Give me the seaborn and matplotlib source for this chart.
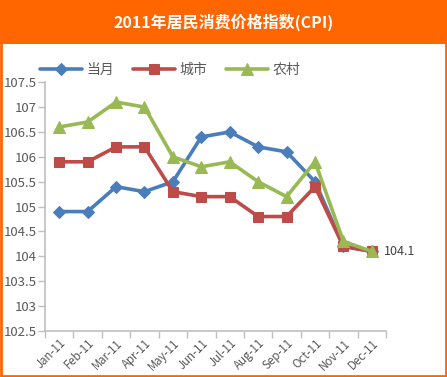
import numpy as np
import pandas as pd
import seaborn as sns
import matplotlib.pyplot as plt
from matplotlib.patches import Rectangle

months = ["Jan-11", "Feb-11", "Mar-11", "Apr-11", "May-11", "Jun-11",
          "Jul-11", "Aug-11", "Sep-11", "Oct-11", "Nov-11", "Dec-11"]
dangyue = [104.9, 104.9, 105.4, 105.3, 105.5, 106.4, 106.5, 106.2, 106.1, 105.5, 104.2, 104.1]
chengshi = [105.9, 105.9, 106.2, 106.2, 105.3, 105.2, 105.2, 104.8, 104.8, 105.4, 104.2, 104.1]
nongcun = [106.6, 106.7, 107.1, 107.0, 106.0, 105.8, 105.9, 105.5, 105.2, 105.9, 104.3, 104.1]

sns.set_style("white")
plt.rcParams["font.family"] = ["Noto Sans CJK SC", "DejaVu Sans"]

fig = plt.figure(figsize=(4.47, 3.77), dpi=100)
ax = fig.add_axes([0.1007, 0.122, 0.763, 0.66])

x = np.arange(len(months))
series = [
    ("当月", dangyue, "#4A7EBB", "D", 6.5),
    ("城市", chengshi, "#BE4B48", "s", 7.5),
    ("农村", nongcun, "#98B954", "^", 8.5),
]
for name, vals, color, marker, ms in series:
    sns.lineplot(x=x, y=vals, ax=ax, color=color, marker=marker, markersize=ms,
                 markeredgecolor=color, linewidth=2.6, label=name)

ax.annotate("104.1", (x[-1], dangyue[-1]), xytext=(9, 0), textcoords="offset points",
            va="center", ha="left", fontsize=9, color="#404040")

ax.set_xlim(-0.5, 11.5)
ax.set_ylim(102.5, 107.5)
ax.set_yticks(np.arange(102.5, 107.51, 0.5))
ax.set_yticklabels([f"{v:g}" for v in np.arange(102.5, 107.51, 0.5)])
ax.set_xticks(np.arange(-0.5, 11.6, 1))
ax.set_xticklabels([])
ax.set_xticks(x, minor=True)
ax.set_xticklabels(months, minor=True, rotation=45, ha="right", rotation_mode="anchor")
ax.tick_params(axis="x", which="major", length=5, width=1, color="#BFBFBF", direction="out", bottom=True)
ax.tick_params(axis="x", which="minor", length=0, pad=4, labelsize=8.3, labelcolor="#595959")
ax.tick_params(axis="y", length=5, width=1, color="#BFBFBF", direction="out", left=True,
               labelsize=9.5, labelcolor="#595959", pad=1)
for s in ["top", "right"]:
    ax.spines[s].set_visible(False)
for s in ["left", "bottom"]:
    ax.spines[s].set_color("#BFBFBF")
    ax.spines[s].set_linewidth(1.2)
ax.grid(False)
ax.set_xlabel("")
ax.set_ylabel("")

leg = ax.legend(loc="lower left", bbox_to_anchor=(-0.03, 1.0), ncol=3, frameon=False,
                fontsize=10, handlelength=3.0, columnspacing=1.4, handletextpad=0.3,
                borderaxespad=0)
for t in leg.get_texts():
    t.set_color("#595959")

# orange header bar and border
fig.patches.append(Rectangle((0, 0.883), 1, 0.117, transform=fig.transFigure,
                             facecolor="#FF6600", edgecolor="none", zorder=0))
fig.patches.append(Rectangle((0.002, 0.003), 0.995, 0.99, transform=fig.transFigure,
                             facecolor="none", edgecolor="#FF6600", linewidth=2, zorder=0))
fig.text(0.5, 0.941, "2011年居民消费价格指数(CPI)", ha="center", va="center",
         color="white", fontsize=11.5, fontweight="bold")

plt.savefig("out.png", dpi=100)
